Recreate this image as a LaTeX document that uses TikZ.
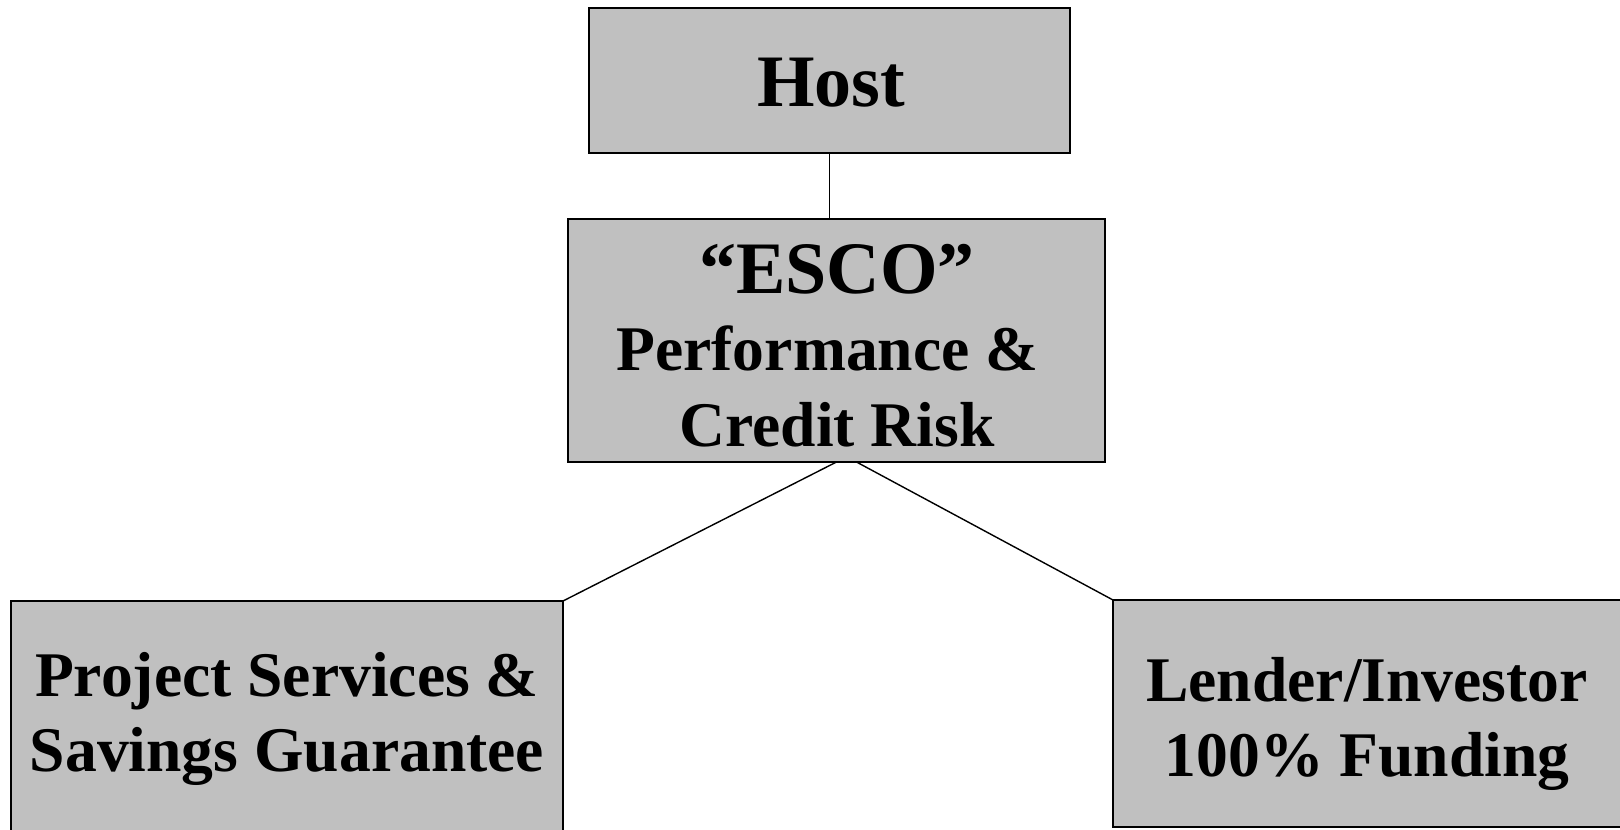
\documentclass[tikz,border=0pt]{standalone}
\usepackage{fontspec}
\setmainfont{Liberation Serif}
\usepackage{xcolor}
\usepackage{tikz}
\usetikzlibrary{calc}

\definecolor{boxgray}{RGB}{192,192,192}

\begin{document}
\begin{tikzpicture}[x=0.5pt,y=-0.5pt,
    box/.style={draw=black,fill=boxgray,line width=1pt,inner sep=0pt,outer sep=0pt},
    bigtxt/.style={font=\bfseries\fontsize{37}{40}\selectfont,inner sep=0pt},
    txt/.style={font=\bfseries\fontsize{31.8}{37.75}\selectfont,align=center,inner sep=0pt},
    link/.style={draw=black,line width=0.7pt}]
  \useasboundingbox (0,0) rectangle (1620,829);
  % boxes
  \node[box,minimum width=240.5pt,minimum height=72.5pt] (host) at (829.5,80.5) {};
  \node[box,minimum width=268.5pt,minimum height=121.5pt] (esco) at (836.5,340.5) {};
  \node[box,minimum width=276pt,minimum height=124.5pt] (proj) at (287,725.5) {};
  \node[box,minimum width=258.5pt,minimum height=113.5pt] (lend) at (1371.5,713.5) {};
  % texts
  \node[bigtxt] (hostlbl) at (831,82.5) {Host};
  \node[txt] (escolbl) at (837,345.5)
    {{\fontsize{37}{38.75}\selectfont “ESCO”}\\[1pt]Performance \&\rule{0.3em}{0pt}\\Credit Risk};
  \node[txt] (projlbl) at (287,719) {Project Services \&\\Savings Guarantee};
  \node[txt] (lendlbl) at (1367,724) {Lender/Investor\\100\% Funding};
  % links
  \draw[link] (host.south) -- (host.south |- esco.north);
  \draw[link] (esco.south) -- (proj.north east);
  \draw[link] ([xshift=10pt]esco.south) -- (lend.north west);
\end{tikzpicture}
\end{document}
